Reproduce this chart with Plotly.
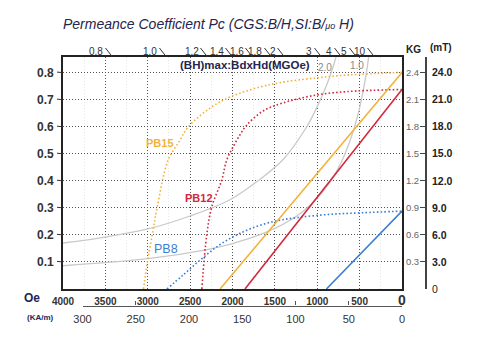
import plotly.graph_objects as go

# ---------------- data ----------------
oe_ticks = [4000, 3500, 3000, 2500, 2000, 1500, 1000, 500, 0]
oe_minor = [3750, 3250, 2750, 2250, 1750, 1250, 750, 250]
ka_ticks = [300, 250, 200, 150, 100, 50, 0]
pc_left = [0.1, 0.2, 0.3, 0.4, 0.5, 0.6, 0.7, 0.8]
kg_ticks = [0, 0.3, 0.6, 0.9, 1.2, 1.5, 1.8, 2.1, 2.4]
kg_text = ["0", "0.3", "0.6", "0.9", "1.2", "1.5", "1.8", "2.1", "2.4"]
mt_text = ["0", "3.0", "6.0", "9.0", "12.0", "15.0", "18.0", "21.0", "24.0"]
top_pc_text = ["0.8", "1.0", "1.2", "1.4", "1.6", "1.8", "2", "3", "4", "5", "10"]
top_pc_oe = [3416, 2779, 2295, 2000, 1764, 1540, 1386, 950, 714, 537, 324]

# demagnetization lines (Oe, Pc-scale)
pb15_oe = [2147, 0]
pb15_y = [0.0, 0.801]
pb12_oe = [1853, 0]
pb12_y = [0.0, 0.738]
pb8_oe = [892, 0]
pb8_y = [0.0, 0.288]

# intrinsic curves (dotted)
pb15_i_oe = [3050, 3006, 2947, 2888, 2759, 2620, 2524, 2265, 2029, 1676, 1441, 1006, 618, 0]
pb15_i_y = [0.0, 0.096, 0.200, 0.303, 0.477, 0.550, 0.599, 0.669, 0.710, 0.747, 0.763, 0.781, 0.792, 0.801]
pb12_i_oe = [2362, 2304, 2245, 2127, 2068, 1994, 1912, 1829, 1641, 1406, 1018, 653, 0]
pb12_i_y = [0.0, 0.200, 0.303, 0.403, 0.477, 0.525, 0.570, 0.607, 0.658, 0.688, 0.717, 0.730, 0.738]
pb8_i_oe = [2774, 2582, 2382, 2186, 1994, 1794, 1524, 1241, 853, 465, 0]
pb8_i_y = [0.0, 0.052, 0.107, 0.156, 0.193, 0.222, 0.249, 0.264, 0.276, 0.282, 0.288]

# iso-(BH)max curves
bh1_oe = [4000, 3000, 2300, 2000, 1600, 1250, 1050, 850, 700, 600, 520, 460, 410, 390]
bh1_y = [0.086, 0.112, 0.146, 0.168, 0.210, 0.268, 0.320, 0.395, 0.480, 0.560, 0.645, 0.730, 0.820, 0.870]
bh2_oe = [4000, 3500, 3000, 2500, 2029, 1700, 1400, 1124, 1000, 888, 800, 770]
bh2_y = [0.170, 0.192, 0.222, 0.270, 0.330, 0.400, 0.480, 0.600, 0.675, 0.755, 0.835, 0.870]

# ---------------- geometry ----------------
W, H = 486, 344
L, R, T, B = 63, 60, 57, 14
PW, PH = W - L - R, H - T - B


def px(x):
    return (x - L) / PW


def py(y):
    return (H - B - y) / PH


FONT = "Liberation Sans, Arial, sans-serif"
ORANGE = "#F2B33D"
RED = "#D3283B"
BLUE = "#3B7ED3"
GRAY = "#c9c9c9"
NAVY = "#24244f"

YTOP = 0.858
x_dom = [0, px(402)]
y_dom = [py(289), 1]

fig = go.Figure()


def add(x, y, color, dash=None, width=1.6, shape="linear"):
    fig.add_trace(go.Scatter(x=x, y=y, mode="lines",
                             line=dict(color=color, width=width, dash=dash, shape=shape),
                             hoverinfo="skip", showlegend=False))


add(bh1_oe, bh1_y, GRAY, width=1.3, shape="spline")
add(bh2_oe, bh2_y, GRAY, width=1.3, shape="spline")
dot = "1.6px,2.2px"
add(pb15_i_oe, pb15_i_y, ORANGE, dash=dot, shape="spline")
add(pb12_i_oe, pb12_i_y, RED, dash=dot, shape="spline")
add(pb8_i_oe, pb8_i_y, BLUE, dash=dot, shape="spline")
add(pb15_oe, pb15_y, ORANGE, width=1.6)
add(pb12_oe, pb12_y, RED, width=1.6)
add(pb8_oe, pb8_y, BLUE, width=1.6)

# invisible anchors for extra axes
fig.add_trace(go.Scatter(x=[0], y=[0], xaxis="x", yaxis="y2", mode="markers",
                         marker=dict(opacity=0), hoverinfo="skip", showlegend=False))
fig.add_trace(go.Scatter(x=[0], y=[0], xaxis="x", yaxis="y3", mode="markers",
                         marker=dict(opacity=0), hoverinfo="skip", showlegend=False))
fig.add_trace(go.Scatter(x=[0], y=[0], xaxis="x2", yaxis="y4", mode="markers",
                         marker=dict(opacity=0), hoverinfo="skip", showlegend=False))

oe_text = ["<b>%d</b>" % v for v in oe_ticks[:-1]] + ["<span style='font-size:14px'><b>0</b></span>"]

fig.update_layout(
    template="none",
    width=W, height=H,
    margin=dict(l=L, r=R, t=T, b=B, pad=0, autoexpand=False),
    paper_bgcolor="white", plot_bgcolor="rgba(0,0,0,0)",
    font=dict(family=FONT, color="#333"),
    showlegend=False,
    xaxis=dict(domain=x_dom, range=[4000, 0], tickvals=oe_ticks, ticktext=oe_text, automargin=False,
               ticks="", tickfont=dict(size=10, color="#333"), ticklabelstandoff=2,
               showgrid=True, gridcolor="#555", gridwidth=1, griddash="1px,2px",
               minor=dict(tickvals=oe_minor, showgrid=True, gridcolor="#e6e6e6", gridwidth=1, ticks=""),
               showline=True, linecolor="#222", linewidth=1.8, mirror=True, zeroline=False,
               anchor="y"),
    yaxis=dict(domain=y_dom, range=[0, YTOP], tickvals=pc_left, automargin=False,
               ticktext=["<b>%.1f</b>" % v for v in pc_left],
               ticks="", tickfont=dict(size=12, color="#333"), ticklabelstandoff=5,
               showgrid=True, gridcolor="#555", gridwidth=1, griddash="1px,2px",
               showline=True, linecolor="#222", linewidth=1.8, mirror=True, zeroline=False,
               anchor="x"),
    yaxis2=dict(overlaying="y", side="right", anchor="free", position=1.0, automargin=False,
                range=[0, YTOP * 3], tickvals=kg_ticks + [YTOP * 3],
                ticktext=["<span style='font-size:12px;color:#222'><b>0</b></span>"] + kg_text[1:] + [""],
                ticks="inside", ticklen=5, tickwidth=1.2, tickcolor="#444",
                ticklabelposition="inside", tickfont=dict(size=9.5, color="#666"),
                showline=True, linecolor="#444", linewidth=1.5, showgrid=False, zeroline=False),
    yaxis3=dict(overlaying="y", side="right", anchor="free", position=1.0, automargin=False,
                range=[0, YTOP * 3], tickvals=kg_ticks,
                ticktext=["0"] + ["<b>%s</b>" % t for t in mt_text[1:]],
                ticks="", ticklabelstandoff=5, tickfont=dict(size=10.5, color="#222"),
                showline=False, showgrid=False, zeroline=False),
    xaxis2=dict(domain=[px(82.5), px(402)], range=[300, 0], anchor="free", position=py(305.5),
                automargin=False,
                tickvals=ka_ticks, ticks="inside", ticklen=4, tickwidth=1.2, tickcolor="#555",
                tickfont=dict(size=11, color="#333"), ticklabelstandoff=3,
                showline=True, linecolor="#555", linewidth=1.4, showgrid=False, zeroline=False),
    yaxis4=dict(domain=y_dom, range=[0, 1], anchor="x2", visible=False, showgrid=False, automargin=False),
)

ann = []
shapes = []


def label(x, y, text, size, color, xref="paper", yref="paper", xanchor="center", yanchor="middle"):
    ann.append(dict(xref=xref, yref=yref, x=x, y=y, text=text, xanchor=xanchor, yanchor=yanchor,
                    font=dict(size=size, color=color), showarrow=False))


# title
label(px(61), py(24),
      "<i>Permeance Coefficient Pc (CGS:B/H,SI:B/<span style='font-size:9px'>\u03bco</span> H)</i>",
      14, NAVY, xanchor="left")
# top Pc labels with slanted ticks
off = 7 / 0.08475
for t, v in zip(top_pc_text, top_pc_oe):
    label(v + off, py(51.5), t, 10, "#333", xref="x", xanchor="right")
    shapes.append(dict(type="line", xref="x", yref="paper", x0=v + off, y0=py(48), x1=v, y1=1,
                       line=dict(color="#333", width=1)))
# left slanted ticks
for v in pc_left:
    shapes.append(dict(type="line", xref="paper", yref="y", x0=px(57), y0=v + 6 / 270.4 * 0.1,
                       x1=px(63), y1=v, line=dict(color="#333", width=1)))

label(px(32), py(298), "<b>Oe</b>", 12, NAVY)
label(px(40), py(317), "<b>(KA/m)</b>", 8, NAVY)
label(px(413), py(49), "<b>KG</b>", 10, "#222")
label(px(441), py(48), "<b>(mT)</b>", 10, "#222")
label(1853, 0.828, "<b>(BH)max:BdxHd(MGOe)</b>", 11.5, NAVY, xref="x", yref="y")
label(912, 0.821, "2.0", 10, "#888", xref="x", yref="y")
label(535, 0.825, "1.0", 10, "#888", xref="x", yref="y")
label(2853, 0.540, "<b>PB15</b>", 11, ORANGE, xref="x", yref="y")
label(2394, 0.337, "<b>PB12</b>", 11, RED, xref="x", yref="y")
label(2782, 0.148, "PB8", 12.5, BLUE, xref="x", yref="y")

fig.update_layout(annotations=ann, shapes=shapes)
fig.write_html("out.html")
